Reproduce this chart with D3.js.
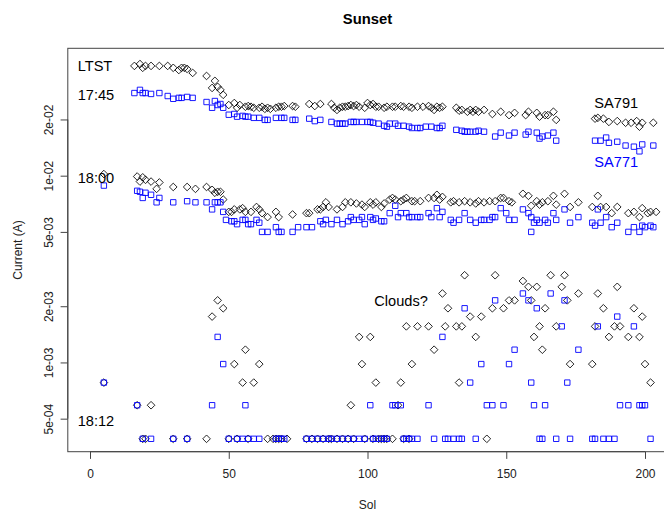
<!DOCTYPE html>
<html>
<head>
<meta charset="utf-8">
<script src="https://cdn.jsdelivr.net/npm/d3@7"></script>
<style>
  body { margin: 0; background: #fff; }
  svg { font-family: "Liberation Sans", Arial, sans-serif; }
</style>
</head>
<body>
<div class="viz"></div>
<script>
const width = 664
const height = 512
const plot = {left: 67.8, right: 667.2, top: 48.3, bottom: 451.7}

// axis limits as in the R call, R pads them 4%
const xLim = [0, 200]
const yLim = [4e-4, 4e-2]
const xTicks = [0, 50, 100, 150, 200]
const yTicks = [5e-4, 1e-3, 2e-3, 5e-3, 1e-2, 2e-2]

// [sol, current (A)]
const sa791At1745 = [[16,.0387],[18,.0396],[19,.0378],[20,.0387],[22,.0387],[25,.0387],[28,.0387],[30,.0378],[32,.0368],[33,.0378],[34,.0378],[35,.0373],[37,.0355],[42,.0342],[44,.0295],[45,.0322],[46,.0299],[47,.0288],[48,.0271],[50,.0239],[52,.0245],[53,.0231],[54,.0239],[56,.0234],[57,.0236],[58,.0234],[59,.0231],[61,.0231],[62,.0234],[63,.0228],[64,.0231],[65,.0228],[67,.0231],[68,.0234],[69,.0234],[70,.0236],[73,.0236],[74,.0234],[79,.0242],[81,.0236],[83,.0242],[87,.0242],[88,.0231],[89,.0225],[90,.0231],[91,.0234],[92,.0234],[93,.0236],[94,.0239],[95,.0236],[96,.0239],[97,.0234],[99,.0231],[100,.0245],[101,.0239],[102,.0242],[103,.0234],[104,.0234],[106,.0231],[107,.0234],[109,.0234],[110,.0234],[112,.0236],[113,.0234],[115,.0234],[116,.0231],[118,.0234],[120,.0234],[122,.0236],[123,.0231],[124,.0225],[125,.0234],[126,.0231],[127,.0234],[132,.0231],[133,.0223],[134,.0225],[136,.0220],[137,.0225],[138,.0220],[139,.0225],[140,.0220],[142,.0225],[145,.0214],[148,.0220],[151,.0211],[153,.0217],[157,.0211],[158,.0220],[161,.0217],[162,.0207],[164,.0211],[165,.0211],[167,.0220],[168,.0199],[182,.0202],[183,.0204],[185,.0202],[187,.0194],[190,.0196],[193,.0192],[195,.0192],[197,.0196],[198,.0183],[199,.0192],[203,.0192]]

const sa771At1745 = [[16,.0277],[18,.0288],[19,.0277],[20,.0277],[22,.0274],[25,.0277],[28,.0267],[30,.0258],[32,.0261],[33,.0261],[35,.0264],[37,.0261],[42,.0248],[44,.0231],[45,.0251],[46,.0239],[47,.0242],[48,.0231],[50,.0212],[52,.0214],[53,.0207],[55,.0209],[56,.0207],[57,.0207],[59,.0204],[61,.0204],[63,.0199],[64,.0199],[67,.0204],[69,.0204],[70,.0204],[73,.0199],[74,.0199],[79,.0202],[81,.0196],[83,.0199],[87,.0194],[89,.0190],[90,.0190],[91,.0190],[92,.0190],[94,.0194],[95,.0194],[96,.0194],[98,.0194],[100,.0194],[101,.0194],[102,.0192],[104,.0190],[106,.0185],[107,.0183],[108,.0190],[110,.0190],[111,.0185],[113,.0185],[115,.0183],[116,.0180],[118,.0180],[119,.0180],[121,.0183],[123,.0183],[125,.0180],[126,.0180],[127,.0185],[132,.0176],[134,.0174],[135,.0172],[136,.0172],[137,.0172],[139,.0172],[140,.0174],[142,.0172],[146,.0162],[148,.0170],[151,.0164],[153,.0170],[157,.0166],[158,.0172],[161,.0170],[162,.0158],[163,.0162],[165,.0164],[167,.0170],[168,.0154],[182,.0154],[184,.0154],[186,.0160],[187,.0150],[190,.0152],[193,.0145],[196,.0143],[198,.0135],[199,.0147],[203,.0145]]

const sa791At1800 = [[5,.0102],[17,.0099],[18,.0093],[19,.0098],[20,.0095],[22,.0093],[24,.0085],[25,.0092],[30,.0087],[35,.0087],[38,.0085],[42,.0087],[44,.0084],[45,.0081],[46,.0082],[47,.0082],[48,.00745],[50,.0064],[51,.0064],[52,.0066],[54,.0066],[55,.0067],[56,.0064],[58,.0064],[60,.0068],[61,.0066],[62,.0063],[64,.0060],[67,.0064],[68,.0060],[73,.0062],[78,.0063],[79,.0063],[82,.0066],[83,.0066],[84,.0068],[85,.0072],[86,.0068],[89,.0066],[91,.0068],[92,.0072],[94,.0072],[96,.0071],[98,.0070],[99,.0068],[101,.0072],[102,.0070],[103,.0072],[105,.0068],[106,.0071],[108,.00745],[109,.0076],[110,.00745],[112,.0073],[113,.00745],[114,.0076],[116,.0073],[117,.0073],[119,.0073],[122,.0076],[124,.0076],[125,.0079],[126,.00745],[127,.0077],[130,.0072],[131,.0073],[133,.0072],[135,.0073],[137,.0072],[139,.0071],[140,.0073],[142,.0072],[144,.0073],[146,.0073],[148,.0076],[149,.0076],[151,.0073],[152,.0072],[156,.0080],[158,.0078],[159,.0069],[161,.0073],[162,.0070],[163,.0072],[165,.0073],[167,.0078],[168,.0070],[171,.0080],[173,.0068],[176,.0072],[181,.0068],[183,.0078],[184,.0068],[186,.0068],[188,.0063],[190,.0068],[194,.0063],[196,.0064],[198,.0060],[199,.0067],[201,.0063],[202,.0064],[204,.0064]]

const sa771At1800 = [[5,.00885],[17,.0083],[18,.0082],[19,.0076],[20,.0081],[22,.0079],[24,.0072],[25,.0076],[30,.0072],[35,.0073],[38,.0072],[42,.0072],[44,.0066],[45,.0072],[46,.0072],[47,.0072],[48,.0064],[49,.0058],[51,.0057],[52,.0057],[53,.0055],[55,.0058],[56,.0058],[57,.0055],[58,.0055],[60,.0058],[61,.0056],[62,.0050],[64,.0050],[67,.0053],[68,.0050],[69,.0050],[73,.0050],[75,.0053],[78,.0053],[80,.0053],[83,.0057],[84,.0055],[85,.0058],[87,.0055],[89,.0058],[91,.0055],[93,.0057],[94,.0060],[95,.0058],[97,.0058],[98,.0060],[99,.0055],[101,.0060],[102,.0058],[103,.0059],[105,.0057],[106,.0057],[108,.0063],[110,.0069],[111,.0060],[112,.0063],[114,.0063],[115,.0060],[116,.0060],[118,.0060],[119,.0060],[122,.0063],[123,.0060],[125,.0067],[126,.0060],[127,.0064],[130,.0058],[131,.0056],[133,.0058],[135,.0063],[137,.0058],[139,.0056],[141,.0058],[142,.0058],[144,.0058],[145,.0060],[146,.0060],[148,.0067],[150,.0063],[151,.0058],[153,.0058],[156,.0066],[158,.0063],[159,.0060],[159,.0050],[160,.0056],[161,.0058],[162,.0056],[164,.0058],[165,.0056],[167,.0063],[168,.0058],[171,.0066],[173,.0056],[176,.0060],[181,.0056],[182,.0054],[183,.0066],[184,.0056],[186,.0060],[188,.0053],[190,.0056],[194,.0050],[196,.0053],[198,.0050],[199,.0054],[200,.0053],[202,.0054],[203,.0053]]

const sa791At1812 = [[5,7.8e-4],[17,5.9e-4],[19,3.9e-4],[20,3.9e-4],[22,5.9e-4],[30,3.9e-4],[35,3.9e-4],[42,3.9e-4],[44,1.76e-3],[46,2.15e-3],[48,1.95e-3],[50,3.9e-4],[52,9.8e-4],[53,3.9e-4],[55,7.8e-4],[56,1.17e-3],[57,3.9e-4],[59,7.8e-4],[61,9.8e-4],[64,3.9e-4],[66,3.9e-4],[67,3.9e-4],[68,3.9e-4],[69,3.9e-4],[71,3.9e-4],[78,3.9e-4],[80,3.9e-4],[82,3.9e-4],[84,3.9e-4],[86,3.9e-4],[87,3.9e-4],[89,3.9e-4],[91,3.9e-4],[93,3.9e-4],[94,5.9e-4],[95,3.9e-4],[97,1.37e-3],[98,9.8e-4],[99,3.9e-4],[101,1.37e-3],[102,3.9e-4],[103,7.8e-4],[104,3.9e-4],[105,3.9e-4],[106,3.9e-4],[107,3.9e-4],[109,3.9e-4],[111,5.9e-4],[112,7.8e-4],[113,3.9e-4],[114,1.56e-3],[115,3.9e-4],[116,9.8e-4],[118,1.56e-3],[122,1.56e-3],[124,1.17e-3],[127,2.34e-3],[128,1.56e-3],[129,1.95e-3],[132,1.56e-3],[133,7.8e-4],[134,1.56e-3],[135,2.93e-3],[137,1.76e-3],[139,1.37e-3],[141,1.76e-3],[143,3.9e-4],[145,1.95e-3],[146,2.93e-3],[149,1.95e-3],[151,2.15e-3],[153,2.15e-3],[156,2.73e-3],[158,2.54e-3],[159,2.15e-3],[160,1.37e-3],[161,2.54e-3],[162,1.56e-3],[163,1.17e-3],[164,1.95e-3],[166,2.93e-3],[168,1.56e-3],[170,2.54e-3],[171,2.93e-3],[172,2.15e-3],[173,9.8e-4],[176,2.34e-3],[181,9.8e-4],[182,1.56e-3],[183,2.34e-3],[185,1.95e-3],[187,1.37e-3],[189,1.56e-3],[190,2.54e-3],[191,1.56e-3],[194,1.37e-3],[196,1.95e-3],[198,1.37e-3],[199,1.76e-3],[200,9.8e-4],[202,7.8e-4]]

const sa771At1812 = [[5,7.8e-4],[17,5.9e-4],[19,3.9e-4],[22,3.9e-4],[30,3.9e-4],[35,3.9e-4],[44,5.9e-4],[46,1.37e-3],[48,9.8e-4],[50,3.9e-4],[53,3.9e-4],[55,3.9e-4],[56,5.9e-4],[57,3.9e-4],[59,3.9e-4],[61,3.9e-4],[67,3.9e-4],[68,3.9e-4],[69,3.9e-4],[70,3.9e-4],[78,3.9e-4],[80,3.9e-4],[82,3.9e-4],[84,3.9e-4],[86,3.9e-4],[87,3.9e-4],[89,3.9e-4],[91,3.9e-4],[93,3.9e-4],[95,3.9e-4],[97,3.9e-4],[99,3.9e-4],[101,5.9e-4],[102,3.9e-4],[103,3.9e-4],[105,3.9e-4],[106,3.9e-4],[107,3.9e-4],[109,5.9e-4],[110,5.9e-4],[112,5.9e-4],[113,3.9e-4],[114,3.9e-4],[115,3.9e-4],[116,3.9e-4],[118,3.9e-4],[122,5.9e-4],[124,3.9e-4],[127,1.37e-3],[128,3.9e-4],[129,3.9e-4],[131,3.9e-4],[133,3.9e-4],[134,3.9e-4],[135,1.95e-3],[137,7.8e-4],[139,3.9e-4],[141,9.8e-4],[143,5.9e-4],[145,5.9e-4],[146,2.15e-3],[149,5.9e-4],[151,9.8e-4],[153,1.17e-3],[156,2.34e-3],[158,2.15e-3],[159,7.8e-4],[160,5.9e-4],[161,1.95e-3],[162,3.9e-4],[163,3.9e-4],[164,5.9e-4],[166,2.34e-3],[168,3.9e-4],[170,1.56e-3],[171,2.15e-3],[172,7.8e-4],[173,3.9e-4],[176,1.17e-3],[181,3.9e-4],[182,3.9e-4],[183,1.56e-3],[185,3.9e-4],[187,3.9e-4],[189,3.9e-4],[190,1.76e-3],[191,5.9e-4],[194,5.9e-4],[196,1.56e-3],[198,5.9e-4],[199,5.9e-4],[200,5.9e-4],[202,3.9e-4]]

const svg = d3.select('.viz').append('svg')
  .attr('width', width)
  .attr('height', height)

const padLin = ([a, b]) => [a - 0.04 * (b - a), b + 0.04 * (b - a)]
const padLog = ([a, b]) => {
  const la = Math.log10(a), lb = Math.log10(b), d = 0.04 * (lb - la)
  return [Math.pow(10, la - d), Math.pow(10, lb + d)]
}

const x = d3.scaleLinear().domain(padLin(xLim)).range([plot.left, plot.right])
const y = d3.scaleLog().domain(padLog(yLim)).range([plot.bottom, plot.top])

// R style labels: 5e-04
const fmtExp = v => {
  const [m, e] = v.toExponential(0).split('e')
  const n = +e
  return m + 'e' + (n < 0 ? '-' : '+') + String(Math.abs(n)).padStart(2, '0')
}

// points
const side = 5.4
const sym = d3.symbol(d3.symbolSquare, side * side)

function points(data, diamond, color) {
  svg.append('g')
    .attr('fill', 'none')
    .attr('stroke', color)
    .attr('stroke-width', diamond ? 0.8 : 0.9)
    .selectAll('path')
    .data(data)
    .join('path')
    .attr('transform', d => `translate(${x(d[0])},${y(d[1])})` + (diamond ? ' rotate(45)' : ''))
    .attr('d', sym)
}

points(sa791At1745, true, '#000')
points(sa771At1745, false, 'blue')
points(sa791At1800, true, '#000')
points(sa771At1800, false, 'blue')
points(sa791At1812, true, '#000')
points(sa771At1812, false, 'blue')

// box
svg.append('rect')
  .attr('x', plot.left)
  .attr('y', plot.top)
  .attr('width', plot.right - plot.left)
  .attr('height', plot.bottom - plot.top)
  .attr('fill', 'none')
  .attr('stroke', '#444')
  .attr('stroke-width', 1)

// x axis
const gx = svg.append('g')
  .attr('transform', `translate(0,${plot.bottom})`)
  .call(d3.axisBottom(x).tickValues(xTicks).tickSize(7.2).tickPadding(11).tickSizeOuter(0))
gx.select('.domain')
  .attr('d', `M${x(xTicks[0])},0H${x(xTicks[xTicks.length - 1])}`)
  .attr('stroke', '#444')
gx.selectAll('.tick line').attr('stroke', '#444')
gx.selectAll('.tick text')
  .attr('font-size', 12)
  .attr('font-family', '"Liberation Sans", Arial, sans-serif')
  .attr('fill', '#222')

// y axis
const gy = svg.append('g')
  .attr('transform', `translate(${plot.left},0)`)
  .call(d3.axisLeft(y).tickValues(yTicks).tickFormat(fmtExp).tickSize(7.2).tickSizeOuter(0))
gy.select('.domain')
  .attr('d', `M0,${y(yTicks[0])}V${y(yTicks[yTicks.length - 1])}`)
  .attr('stroke', '#444')
gy.selectAll('.tick line').attr('stroke', '#444')
gy.selectAll('.tick text')
  .attr('transform', 'rotate(-90)')
  .attr('x', 0)
  .attr('y', -15)
  .attr('dy', 0)
  .attr('text-anchor', 'middle')
  .attr('font-size', 12)
  .attr('font-family', '"Liberation Sans", Arial, sans-serif')
  .attr('fill', '#222')

// titles
const midX = (plot.left + plot.right) / 2
svg.append('text')
  .attr('x', midX).attr('y', 23.5)
  .attr('text-anchor', 'middle')
  .attr('font-weight', 'bold')
  .attr('font-size', 14.8)
  .text('Sunset')

svg.append('text')
  .attr('x', midX).attr('y', 509)
  .attr('text-anchor', 'middle')
  .attr('font-size', 12)
  .attr('fill', '#222')
  .text('Sol')

svg.append('text')
  .attr('transform', `translate(22,${(plot.top + plot.bottom) / 2}) rotate(-90)`)
  .attr('text-anchor', 'middle')
  .attr('font-size', 12)
  .attr('fill', '#222')
  .text('Current (A)')

// annotations
const note = (t, px, py, color) => svg.append('text')
  .attr('x', px).attr('y', py)
  .attr('font-size', 14.6)
  .attr('fill', color || '#000')
  .text(t)

note('LTST', 77.7, 71)
note('17:45', 77.7, 100)
note('18:00', 77.7, 183)
note('18:12', 77.7, 426)
note('SA791', 594.3, 108)
note('SA771', 594.3, 167, 'blue')
note('Clouds?', 374.3, 305.5)
</script>
</body>
</html>
